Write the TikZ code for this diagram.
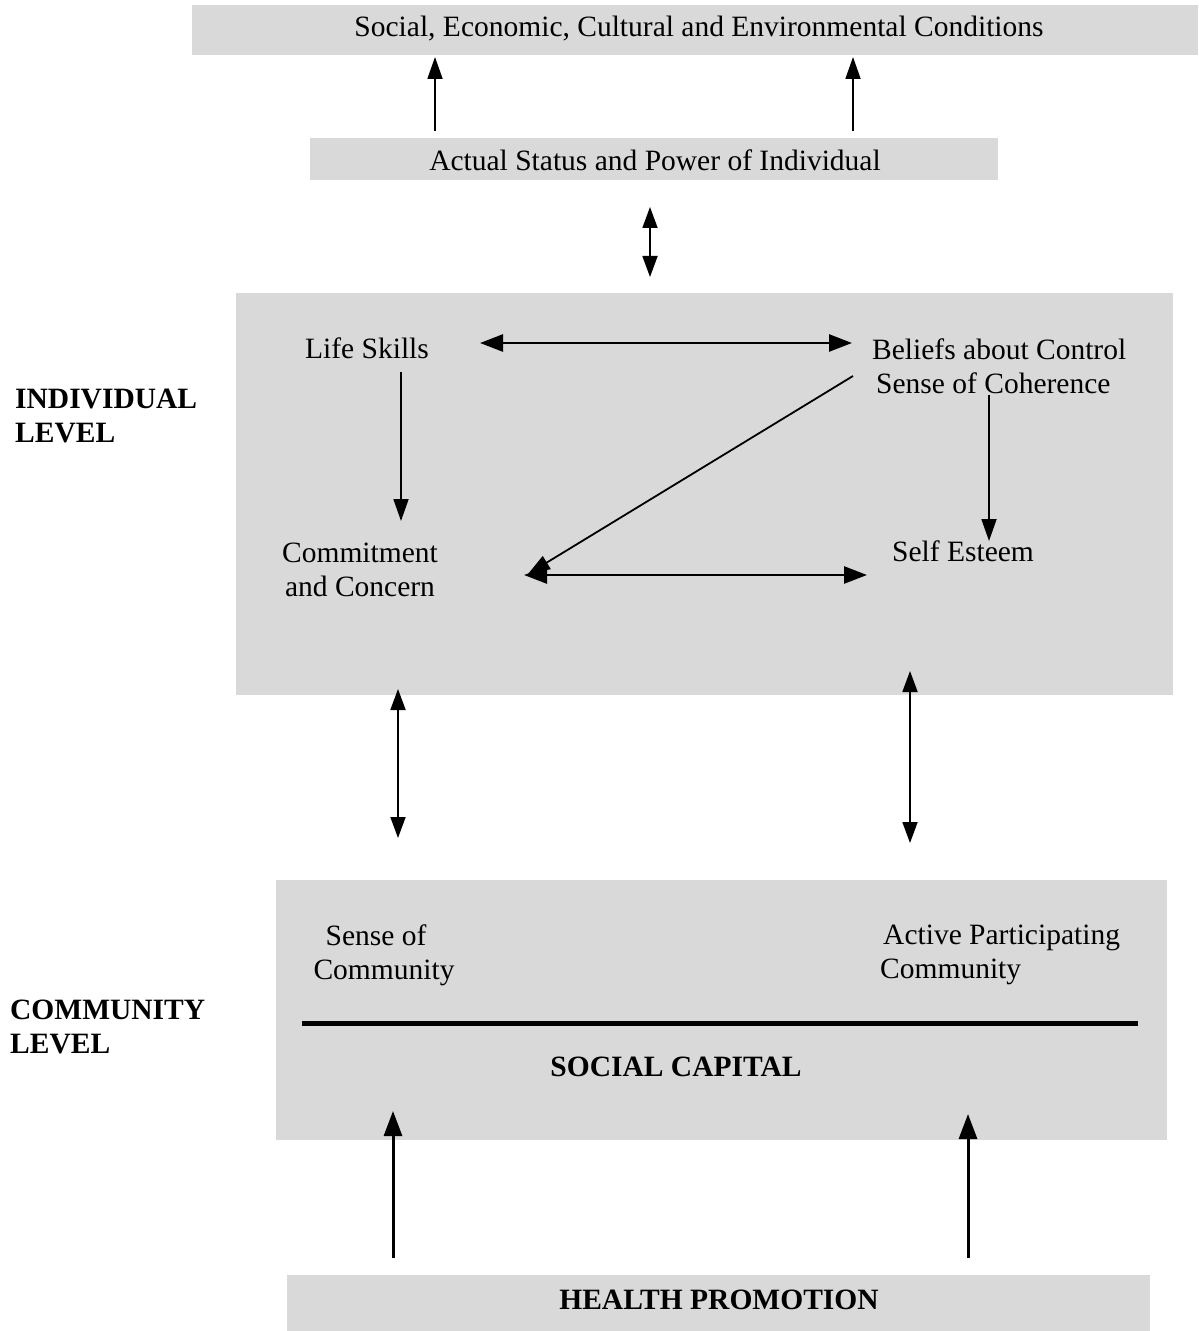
\documentclass[tikz,border=0pt]{standalone}
\usepackage{fontspec}
\setmainfont{Liberation Serif}
\usetikzlibrary{arrows.meta}
\definecolor{boxgray}{gray}{0.85}
\begin{document}
\begin{tikzpicture}[x=1bp,y={(0bp,-1bp)},
  txt/.style={inner sep=0pt, font=\fontsize{29.5bp}{34bp}\selectfont},
  btxt/.style={inner sep=0pt, font=\fontsize{29.5bp}{34bp}\selectfont\bfseries},
  gbox/.style={fill=boxgray, draw=none, inner sep=0pt},
  arr/.style={line width=1.8bp, -{Triangle[length=22bp,width=15bp]}},
  darr/.style={line width=1.8bp, {Triangle[length=21bp,width=15bp]}-{Triangle[length=21bp,width=15bp]}},
  harr/.style={line width=2.6bp, {Triangle[length=23bp,width=17bp]}-{Triangle[length=23bp,width=17bp]}},
  bigarr/.style={line width=3bp, -{Triangle[length=25bp,width=18bp]}}
]
\useasboundingbox (0,0) rectangle (1198,1331);

% boxes
\node[gbox, minimum width=1006bp, minimum height=50bp] (cond) at (695,30) {};
\node[gbox, minimum width=688bp, minimum height=42bp] (status) at (654,159) {};
\node[gbox, minimum width=937bp, minimum height=402bp] (indiv) at (704.5,494) {};
\node[gbox, minimum width=891bp, minimum height=260bp] (comm) at (721.5,1010) {};
\node[gbox, minimum width=863bp, minimum height=56bp] (hp) at (718.5,1303) {};

% texts
\node[txt] (condt) at (699,29) {Social, Economic, Cultural and Environmental Conditions};
\node[txt] (statust) at (655,160) {Actual Status and Power of Individual};
\node[txt] (ls) at (367,348) {Life Skills};
\node[txt, align=left, anchor=west] (bc) at (872,366) {Beliefs about Control\\\hspace*{4bp}Sense of Coherence};
\node[txt, align=center] (cc) at (360,570) {Commitment\\and Concern};
\node[txt] (se) at (963,551) {Self Esteem};
\node[txt, align=center] (sc) at (384,955) {\hspace*{-16bp}Sense of\\Community};
\node[txt, align=left, anchor=west] (apc) at (880,955) {\hspace*{3bp}Active Participating\\Community};
\node[btxt] (scap) at (676,1067) {SOCIAL CAPITAL};
\node[btxt] (hpt) at (719,1300) {HEALTH PROMOTION};
\node[btxt, align=left, anchor=west] (il) at (15,416) {INDIVIDUAL\\LEVEL};
\node[btxt, align=left, anchor=west] (cl) at (10,1027) {COMMUNITY\\LEVEL};

% divider line
\coordinate (divL) at (302,1023);
\coordinate (divR) at (1138,1023);
\draw[line width=5bp] (divL) -- (divR);

% connector end points
\coordinate (u1s) at (435,131); \coordinate (u1e) at (435,57);
\coordinate (u2s) at (853,131); \coordinate (u2e) at (853,57);
\coordinate (m1a) at (650,207); \coordinate (m1b) at (650,277);
\coordinate (h1a) at (480,343); \coordinate (h1b) at (852,343);
\coordinate (v1a) at (401,372); \coordinate (v1b) at (401,521);
\coordinate (dga) at (853,376); \coordinate (dgb) at (528,574);
\coordinate (v2a) at (989,395); \coordinate (v2b) at (989,541);
\coordinate (h2a) at (524,575); \coordinate (h2b) at (867,575);
\coordinate (l1a) at (398,689); \coordinate (l1b) at (398,838);
\coordinate (l2a) at (910,671); \coordinate (l2b) at (910,843);
\coordinate (b1s) at (393,1258); \coordinate (b1e) at (393,1111);
\coordinate (b2s) at (968,1258); \coordinate (b2e) at (968,1114);

% connectors
\draw[arr] (u1s) -- (u1e);
\draw[arr] (u2s) -- (u2e);
\draw[darr] (m1a) -- (m1b);
\draw[harr] (h1a) -- (h1b);
\draw[arr] (v1a) -- (v1b);
\draw[arr] (dga) -- (dgb);
\draw[arr] (v2a) -- (v2b);
\draw[harr] (h2a) -- (h2b);
\draw[darr] (l1a) -- (l1b);
\draw[darr] (l2a) -- (l2b);
\draw[bigarr] (b1s) -- (b1e);
\draw[bigarr] (b2s) -- (b2e);
\end{tikzpicture}
\end{document}
